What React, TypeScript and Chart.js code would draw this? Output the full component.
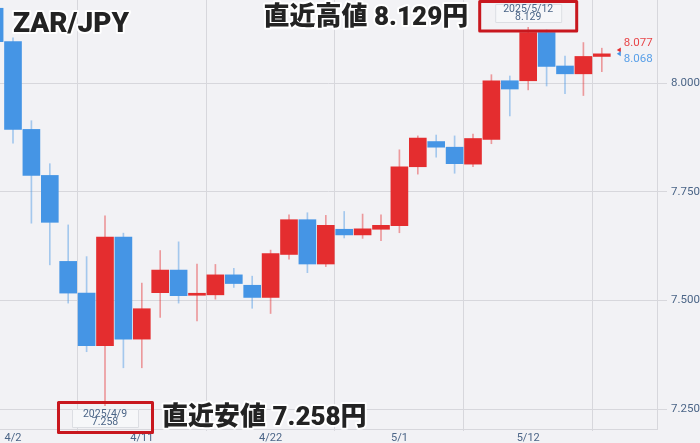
import React, { useRef, useEffect } from "react";
import { Chart, registerables } from "chart.js";

Chart.register(...registerables);

// trading days, index 0 = 4/1 (only partly visible at the left edge)
const dates = [
	"4/1", "4/2", "4/3", "4/4", "4/7", "4/8", "4/9", "4/10", "4/11",
	"4/14", "4/15", "4/16", "4/17", "4/18", "4/21", "4/22", "4/23", "4/24", "4/25",
	"4/28", "4/29", "4/30", "5/1", "5/2", "5/5", "5/6", "5/7", "5/8", "5/9",
	"5/12", "5/13", "5/14", "5/15", "5/16",
];

const opens = [
	8.173, 8.096, 7.894, 7.788, 7.590, 7.517, 7.396, 7.646, 7.411,
	7.518, 7.570, 7.512, 7.513, 7.559, 7.535, 7.507, 7.606, 7.686, 7.584,
	7.664, 7.651, 7.664, 7.672, 7.808, 7.866, 7.853, 7.814, 7.871, 8.006,
	8.006, 8.117, 8.040, 8.022, 8.062,
];
const highs = [
	8.185, 8.105, 7.914, 7.815, 7.674, 7.601, 7.695, 7.655, 7.540,
	7.615, 7.635, 7.584, 7.583, 7.574, 7.556, 7.616, 7.697, 7.702, 7.696,
	7.705, 7.699, 7.697, 7.847, 7.879, 7.881, 7.879, 7.883, 8.020, 8.017,
	8.129, 8.123, 8.063, 8.094, 8.081,
];
const lows = [
	8.085, 7.862, 7.678, 7.582, 7.494, 7.382, 7.258, 7.345, 7.345,
	7.461, 7.494, 7.453, 7.503, 7.530, 7.482, 7.470, 7.595, 7.564, 7.578,
	7.644, 7.643, 7.638, 7.656, 7.791, 7.830, 7.793, 7.808, 7.861, 7.925,
	7.985, 7.994, 7.976, 7.972, 8.027,
];
const closes = [
	8.096, 7.894, 7.788, 7.680, 7.517, 7.396, 7.646, 7.411, 7.481,
	7.570, 7.511, 7.513, 7.559, 7.539, 7.507, 7.608, 7.686, 7.584, 7.673,
	7.651, 7.665, 7.673, 7.808, 7.874, 7.853, 7.815, 7.873, 8.006, 7.987,
	8.117, 8.039, 8.022, 8.062, 8.068,
];

const xTickIdx = [1, 8, 15, 22, 29, 36];
const yTicks = [7.25, 7.5, 7.75, 8.0];

const askPrice = 8.077;
const bidPrice = 8.068;

const highIdx = 29; // 2025/5/12
const lowIdx = 6; // 2025/4/9

const RED = "#e42d2f";
const BLUE = "#4595e5";
const RED_WICK = "rgba(228, 45, 47, 0.45)";
const BLUE_WICK = "rgba(69, 149, 229, 0.45)";
const GRID = "#d7d7dc";
const AXIS_TEXT = "#4b6587";
const JP_FONT = "900 26px Roboto, 'Noto Sans CJK JP'";

const haloText = (
	ctx: CanvasRenderingContext2D,
	text: string,
	x: number,
	y: number,
) => {
	ctx.lineJoin = "round";
	ctx.strokeStyle = "rgba(255,255,255,0.95)";
	ctx.lineWidth = 4;
	ctx.strokeText(text, x, y);
	ctx.fillStyle = "#232323";
	ctx.fillText(text, x, y);
};

const dateBox = (
	ctx: CanvasRenderingContext2D,
	cx: number,
	top: number,
	l1: string,
	l2: string,
) => {
	ctx.fillStyle = "#f6f7f9";
	ctx.fillRect(cx - 33, top, 67, 19);
	ctx.strokeStyle = "#dcdee3";
	ctx.lineWidth = 1;
	ctx.strokeRect(cx - 32.5, top + 0.5, 66, 18);
	ctx.fillStyle = AXIS_TEXT;
	ctx.font = "10.5px Roboto";
	ctx.textAlign = "center";
	ctx.textBaseline = "middle";
	ctx.fillText(l1, cx, top + 5);
	ctx.fillText(l2, cx, top + 13.5);
};

const overlayPlugin = {
	id: "overlay",
	afterDatasetsDraw(chart: any) {
		const { ctx, chartArea, scales } = chart;
		const xs = scales.x;
		const ys = scales.y;
		ctx.save();

		// title
		ctx.font = "900 28px Roboto";
		ctx.textAlign = "left";
		ctx.textBaseline = "middle";
		haloText(ctx, "ZAR/JPY", 13, 25);

		// recent high
		const hx = xs.getPixelForValue(highIdx);
		dateBox(ctx, hx, chartArea.top + 4, "2025/5/12", highs[highIdx].toFixed(3));
		ctx.strokeStyle = "#c8171e";
		ctx.lineWidth = 3;
		ctx.strokeRect(hx - 48.5, chartArea.top + 1.5, 97, 29.5);
		ctx.font = JP_FONT;
		ctx.textAlign = "right";
		ctx.textBaseline = "middle";
		haloText(ctx, "直近高値 " + highs[highIdx].toFixed(3) + "円", hx - 60, chartArea.top + 18);

		// recent low
		const lx = xs.getPixelForValue(lowIdx);
		dateBox(ctx, lx, chartArea.bottom - 20, "2025/4/9", lows[lowIdx].toFixed(3));
		ctx.strokeStyle = "#c8171e";
		ctx.lineWidth = 3;
		ctx.strokeRect(lx - 46.5, chartArea.bottom - 26.5, 94, 30);
		ctx.font = JP_FONT;
		ctx.textAlign = "left";
		ctx.textBaseline = "middle";
		haloText(ctx, "直近安値 " + lows[lowIdx].toFixed(3) + "円", lx + 57, chartArea.bottom - 11);

		// last price markers
		const mx = xs.getPixelForValue(dates.length - 1) + 15;
		const ay = ys.getPixelForValue(askPrice);
		const by = ys.getPixelForValue(bidPrice);
		ctx.fillStyle = RED;
		ctx.beginPath();
		ctx.moveTo(mx, ay);
		ctx.lineTo(mx + 4, ay - 2.5);
		ctx.lineTo(mx + 4, ay + 2.5);
		ctx.fill();
		ctx.fillStyle = BLUE;
		ctx.beginPath();
		ctx.moveTo(mx, by);
		ctx.lineTo(mx + 4, by - 2.5);
		ctx.lineTo(mx + 4, by + 2.5);
		ctx.fill();
		ctx.font = "11.5px Roboto";
		ctx.textAlign = "left";
		ctx.textBaseline = "middle";
		ctx.fillStyle = "#e8474a";
		ctx.fillText(askPrice.toFixed(3), mx + 7, ay - 7);
		ctx.fillStyle = "#5aa0e8";
		ctx.fillText(bidPrice.toFixed(3), mx + 7, by + 5);

		ctx.restore();
	},
};

const App: React.FC = () => {
	const chartRef = useRef<HTMLCanvasElement | null>(null);

	useEffect(() => {
		if (!chartRef.current) return;
		const ctx = chartRef.current.getContext("2d");
		if (!ctx) return;

		const up = dates.map((_, i) => closes[i] >= opens[i]);

		const chart = new Chart(ctx, {
			type: "bar",
			data: {
				datasets: [
					{
						label: "body",
						data: dates.map((_, i) => ({ x: i, y: [opens[i], closes[i]] })) as any,
						backgroundColor: up.map((u) => (u ? RED : BLUE)),
						borderWidth: 0,
						barThickness: 17,
						minBarLength: 2,
						grouped: false,
					},
					{
						label: "wick",
						data: dates.map((_, i) => ({ x: i, y: [lows[i], highs[i]] })) as any,
						backgroundColor: up.map((u) => (u ? RED_WICK : BLUE_WICK)),
						borderWidth: 0,
						barThickness: 1,
						grouped: false,
					},
				],
			},
			options: {
				animation: false,
				responsive: false,
				events: [],
				layout: { padding: 0 },
				plugins: {
					legend: { display: false },
					tooltip: { enabled: false },
				},
				scales: {
					x: {
						type: "linear",
						min: 0.2935,
						max: 36,
						offset: false,
						afterBuildTicks: (s: any) => {
							s.ticks = xTickIdx.map((v) => ({ value: v }));
						},
						afterFit: (s: any) => {
							s.height = 14;
							s.paddingLeft = 0;
							s.paddingRight = 0;
						},
						grid: { color: GRID, tickLength: 2 },
						border: { color: GRID },
						ticks: {
							color: AXIS_TEXT,
							font: { family: "Roboto", size: 11 },
							padding: 1,
							maxRotation: 0,
							autoSkip: false,
							callback: (v: any) => dates[Number(v)] ?? "",
						},
					},
					y: {
						position: "right",
						min: 7.204,
						max: 8.192,
						afterBuildTicks: (s: any) => {
							s.ticks = yTicks.map((v) => ({ value: v }));
						},
						afterFit: (s: any) => {
							s.width = 43;
							s.paddingTop = 0;
							s.paddingBottom = 0;
						},
						grid: { color: GRID, tickLength: 10 },
						border: { color: GRID },
						ticks: {
							color: AXIS_TEXT,
							font: { family: "Roboto", size: 11.5 },
							padding: 4,
							callback: (v: any) => Number(v).toFixed(3),
						},
					},
				},
			},
			plugins: [overlayPlugin],
		});

		return () => {
			chart.destroy();
		};
	}, []);

	return (
		<div
			style={{
				position: "fixed",
				left: 0,
				top: 0,
				width: 700,
				height: 443,
				background: "#f2f2f5",
			}}
		>
			<canvas ref={chartRef} width="700" height="443"></canvas>
		</div>
	);
};

export default App;
